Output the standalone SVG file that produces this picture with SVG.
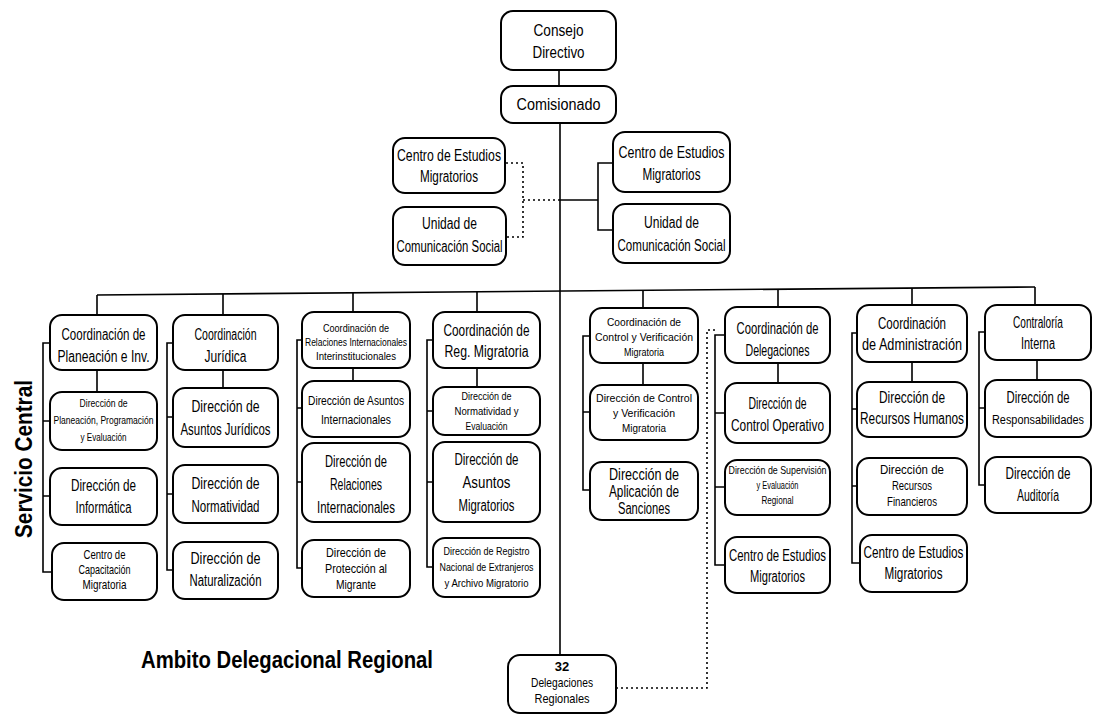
<svg xmlns="http://www.w3.org/2000/svg" width="1094" height="715" viewBox="0 0 1094 715">
<style>
.bx{fill:#fff;stroke:#000;stroke-width:2}
.t{font-family:"Liberation Sans",Arial,sans-serif;text-anchor:middle;fill:#000}
.l{font-size:16px}.m{font-size:13.5px}.s{font-size:11.5px}
.ln{fill:none;stroke:#000;stroke-width:1.6}
.dt{fill:none;stroke:#000;stroke-width:1.6;stroke-dasharray:2 3}
.h{font-family:"Liberation Sans",Arial,sans-serif;font-weight:bold;font-size:24px;fill:#000}
</style>
<rect width="1094" height="715" fill="#fff"/>
<g id="connectors">
<path class="ln" d="M559,70 V86"/>
<path class="ln" d="M560,123 V655"/>
<path class="dt" d="M506,163 H523 V237 H507 M523,200 H560"/>
<path class="ln" d="M560,200 H598 M613,163 H598 V230 H613"/>
<path class="ln" d="M97,295 L1035,287"/>
<path class="ln" d="M97,295 V315 M223,294 V315 M353,293 V312 M477,292 V312 M643,290 V308 M778,289 V307 M912,288 V305 M1035,287 V305"/>
<path class="ln" d="M97,370 V392 M223,370 V388 M353,368 V381 M477,368 V387 M643,363 V385 M778,363 V383 M912,362 V382 M1037,360 V380"/>
<path class="ln" d="M50,343 H43 V572 H52 M43,421 H50 M43,496 H50"/>
<path class="ln" d="M173,343 H167 V570 H173 M167,417 H173 M167,494 H173"/>
<path class="ln" d="M302,340 H297 V568 H302 M297,408 H302 M297,482 H302"/>
<path class="ln" d="M433,340 H427 V567 H433 M427,411 H433 M427,482 H433"/>
<path class="ln" d="M590,336 H583 V490 H590 M583,412 H590"/>
<path class="ln" d="M725,335 H715 V565 H725 M715,413 H725 M715,487 H725"/>
<path class="ln" d="M857,333 H852 V563 H860 M852,409 H857 M852,486 H857"/>
<path class="ln" d="M985,332 H979 V485 H985 M979,408 H985"/>
<path class="dt" d="M715,330 H707 V688 H617"/>
</g>
<g id="consejo"><rect class="bx" x="501" y="11" width="115" height="59" rx="12"/>
<text class="t l" x="558.5" y="36" textLength="50" lengthAdjust="spacingAndGlyphs">Consejo</text>
<text class="t l" x="558.5" y="58" textLength="52" lengthAdjust="spacingAndGlyphs">Directivo</text></g>
<g id="comisionado"><rect class="bx" x="501" y="86" width="115" height="37" rx="12"/>
<text class="t l" x="558.5" y="110" textLength="84" lengthAdjust="spacingAndGlyphs">Comisionado</text></g>
<g id="staff-centro-izq"><rect class="bx" x="393" y="138" width="112" height="55" rx="12"/>
<text class="t l" x="449" y="161" textLength="104" lengthAdjust="spacingAndGlyphs">Centro de Estudios</text>
<text class="t l" x="449" y="182" textLength="58" lengthAdjust="spacingAndGlyphs">Migratorios</text></g>
<g id="staff-unidad-izq"><rect class="bx" x="393" y="207" width="113" height="58" rx="12"/>
<text class="t l" x="449.5" y="229" textLength="55" lengthAdjust="spacingAndGlyphs">Unidad de</text>
<text class="t l" x="449.5" y="252" textLength="106" lengthAdjust="spacingAndGlyphs">Comunicación Social</text></g>
<g id="staff-centro-der"><rect class="bx" x="613" y="132" width="117" height="60" rx="12"/>
<text class="t l" x="671.5" y="158" textLength="106" lengthAdjust="spacingAndGlyphs">Centro de Estudios</text>
<text class="t l" x="671.5" y="180" textLength="58" lengthAdjust="spacingAndGlyphs">Migratorios</text></g>
<g id="staff-unidad-der"><rect class="bx" x="613" y="204" width="117" height="59" rx="12"/>
<text class="t l" x="671.5" y="228" textLength="55" lengthAdjust="spacingAndGlyphs">Unidad de</text>
<text class="t l" x="671.5" y="251" textLength="108" lengthAdjust="spacingAndGlyphs">Comunicación Social</text></g>

<g id="coord-planeacion"><rect class="bx" x="50" y="315" width="107" height="55" rx="12"/>
<text class="t l" x="103.5" y="340" textLength="84" lengthAdjust="spacingAndGlyphs">Coordinación de</text>
<text class="t l" x="103.5" y="362" textLength="92" lengthAdjust="spacingAndGlyphs">Planeación e Inv.</text></g>
<g id="dir-planeacion"><rect class="bx" x="50" y="392" width="107" height="58" rx="12"/>
<text class="t s" x="103.5" y="407" textLength="48" lengthAdjust="spacingAndGlyphs">Dirección de</text>
<text class="t s" x="103.5" y="424" textLength="100" lengthAdjust="spacingAndGlyphs">Planeación, Programación</text>
<text class="t s" x="103.5" y="441" textLength="46" lengthAdjust="spacingAndGlyphs">y Evaluación</text></g>
<g id="dir-informatica"><rect class="bx" x="50" y="468" width="107" height="57" rx="12"/>
<text class="t l" x="103.5" y="491" textLength="65" lengthAdjust="spacingAndGlyphs">Dirección de</text>
<text class="t l" x="103.5" y="513" textLength="56" lengthAdjust="spacingAndGlyphs">Informática</text></g>
<g id="centro-capacitacion"><rect class="bx" x="52" y="543" width="105" height="57" rx="12"/>
<text class="t m" x="104.5" y="559" textLength="42" lengthAdjust="spacingAndGlyphs">Centro de</text>
<text class="t m" x="104.5" y="574" textLength="52" lengthAdjust="spacingAndGlyphs">Capacitación</text>
<text class="t m" x="104.5" y="589" textLength="44" lengthAdjust="spacingAndGlyphs">Migratoria</text></g>

<g id="coord-juridica"><rect class="bx" x="173" y="315" width="105" height="55" rx="12"/>
<text class="t l" x="225.5" y="340" textLength="62" lengthAdjust="spacingAndGlyphs">Coordinación</text>
<text class="t l" x="225.5" y="362" textLength="42" lengthAdjust="spacingAndGlyphs">Jurídica</text></g>
<g id="dir-asuntos-juridicos"><rect class="bx" x="173" y="388" width="105" height="59" rx="12"/>
<text class="t l" x="225.5" y="412" textLength="68" lengthAdjust="spacingAndGlyphs">Dirección de</text>
<text class="t l" x="225.5" y="435" textLength="90" lengthAdjust="spacingAndGlyphs">Asuntos Jurídicos</text></g>
<g id="dir-normatividad"><rect class="bx" x="173" y="465" width="105" height="58" rx="12"/>
<text class="t l" x="225.5" y="489" textLength="68" lengthAdjust="spacingAndGlyphs">Dirección de</text>
<text class="t l" x="225.5" y="512" textLength="68" lengthAdjust="spacingAndGlyphs">Normatividad</text></g>
<g id="dir-naturalizacion"><rect class="bx" x="173" y="542" width="105" height="57" rx="12"/>
<text class="t l" x="225.5" y="564" textLength="70" lengthAdjust="spacingAndGlyphs">Dirección de</text>
<text class="t l" x="225.5" y="586" textLength="72" lengthAdjust="spacingAndGlyphs">Naturalización</text></g>

<g id="coord-relaciones"><rect class="bx" x="302" y="312" width="108" height="56" rx="12"/>
<text class="t s" x="356" y="332" textLength="66" lengthAdjust="spacingAndGlyphs">Coordinación de</text>
<text class="t s" x="356" y="346" textLength="102" lengthAdjust="spacingAndGlyphs">Relaciones Internacionales</text>
<text class="t s" x="356" y="360" textLength="80" lengthAdjust="spacingAndGlyphs">Interinstitucionales</text></g>
<g id="dir-asuntos-internacionales"><rect class="bx" x="302" y="381" width="108" height="56" rx="12"/>
<text class="t m" x="356" y="405" textLength="96" lengthAdjust="spacingAndGlyphs">Dirección de Asuntos</text>
<text class="t m" x="356" y="424" textLength="70" lengthAdjust="spacingAndGlyphs">Internacionales</text></g>
<g id="dir-relaciones-internacionales"><rect class="bx" x="302" y="443" width="108" height="79" rx="12"/>
<text class="t l" x="356" y="467" textLength="62" lengthAdjust="spacingAndGlyphs">Dirección de</text>
<text class="t l" x="356" y="490" textLength="52" lengthAdjust="spacingAndGlyphs">Relaciones</text>
<text class="t l" x="356" y="513" textLength="78" lengthAdjust="spacingAndGlyphs">Internacionales</text></g>
<g id="dir-proteccion"><rect class="bx" x="302" y="540" width="108" height="57" rx="12"/>
<text class="t m" x="356" y="557" textLength="60" lengthAdjust="spacingAndGlyphs">Dirección de</text>
<text class="t m" x="356" y="573" textLength="62" lengthAdjust="spacingAndGlyphs">Protección al</text>
<text class="t m" x="356" y="589" textLength="40" lengthAdjust="spacingAndGlyphs">Migrante</text></g>

<g id="coord-reg-migratoria"><rect class="bx" x="433" y="312" width="107" height="56" rx="12"/>
<text class="t l" x="486.5" y="336" textLength="86" lengthAdjust="spacingAndGlyphs">Coordinación de</text>
<text class="t l" x="486.5" y="357" textLength="84" lengthAdjust="spacingAndGlyphs">Reg. Migratoria</text></g>
<g id="dir-normatividad-evaluacion"><rect class="bx" x="433" y="387" width="107" height="48" rx="12"/>
<text class="t s" x="486.5" y="400" textLength="50" lengthAdjust="spacingAndGlyphs">Dirección de</text>
<text class="t s" x="486.5" y="415" textLength="64" lengthAdjust="spacingAndGlyphs">Normatividad y</text>
<text class="t s" x="486.5" y="430" textLength="42" lengthAdjust="spacingAndGlyphs">Evaluación</text></g>
<g id="dir-asuntos-migratorios"><rect class="bx" x="433" y="442" width="107" height="80" rx="12"/>
<text class="t l" x="486.5" y="465" textLength="64" lengthAdjust="spacingAndGlyphs">Dirección de</text>
<text class="t l" x="486.5" y="488" textLength="48" lengthAdjust="spacingAndGlyphs">Asuntos</text>
<text class="t l" x="486.5" y="511" textLength="56" lengthAdjust="spacingAndGlyphs">Migratorios</text></g>
<g id="dir-registro"><rect class="bx" x="433" y="538" width="107" height="59" rx="12"/>
<text class="t s" x="486.5" y="555" textLength="86" lengthAdjust="spacingAndGlyphs">Dirección de Registro</text>
<text class="t s" x="486.5" y="571" textLength="94" lengthAdjust="spacingAndGlyphs">Nacional de Extranjeros</text>
<text class="t s" x="486.5" y="587" textLength="84" lengthAdjust="spacingAndGlyphs">y Archivo Migratorio</text></g>

<g id="coord-control"><rect class="bx" x="590" y="308" width="108" height="55" rx="12"/>
<text class="t s" x="644" y="326" textLength="74" lengthAdjust="spacingAndGlyphs">Coordinación de</text>
<text class="t s" x="644" y="341" textLength="98" lengthAdjust="spacingAndGlyphs">Control y Verificación</text>
<text class="t s" x="644" y="356" textLength="40" lengthAdjust="spacingAndGlyphs">Migratoria</text></g>
<g id="dir-control-verificacion"><rect class="bx" x="590" y="385" width="108" height="55" rx="12"/>
<text class="t s" x="644" y="402" textLength="96" lengthAdjust="spacingAndGlyphs">Dirección de Control</text>
<text class="t s" x="644" y="417" textLength="62" lengthAdjust="spacingAndGlyphs">y Verificación</text>
<text class="t s" x="644" y="432" textLength="44" lengthAdjust="spacingAndGlyphs">Migratoria</text></g>
<g id="dir-aplicacion-sanciones"><rect class="bx" x="590" y="462" width="108" height="58" rx="12"/>
<text class="t l" x="644" y="480" textLength="70" lengthAdjust="spacingAndGlyphs">Dirección de</text>
<text class="t l" x="644" y="497" textLength="70" lengthAdjust="spacingAndGlyphs">Aplicación de</text>
<text class="t l" x="644" y="514" textLength="52" lengthAdjust="spacingAndGlyphs">Sanciones</text></g>

<g id="coord-delegaciones"><rect class="bx" x="725" y="307" width="105" height="56" rx="12"/>
<text class="t l" x="777.5" y="334" textLength="82" lengthAdjust="spacingAndGlyphs">Coordinación de</text>
<text class="t l" x="777.5" y="356" textLength="64" lengthAdjust="spacingAndGlyphs">Delegaciones</text></g>
<g id="dir-control-operativo"><rect class="bx" x="725" y="383" width="105" height="60" rx="12"/>
<text class="t l" x="777.5" y="409" textLength="58" lengthAdjust="spacingAndGlyphs">Dirección de</text>
<text class="t l" x="777.5" y="431" textLength="93" lengthAdjust="spacingAndGlyphs">Control Operativo</text></g>
<g id="dir-supervision"><rect class="bx" x="725" y="460" width="105" height="55" rx="12"/>
<text class="t s" x="777.5" y="474" textLength="98" lengthAdjust="spacingAndGlyphs">Dirección de Supervisión</text>
<text class="t s" x="777.5" y="489" textLength="42" lengthAdjust="spacingAndGlyphs">y Evaluación</text>
<text class="t s" x="777.5" y="504" textLength="32" lengthAdjust="spacingAndGlyphs">Regional</text></g>
<g id="centro-estudios-deleg"><rect class="bx" x="725" y="537" width="105" height="56" rx="12"/>
<text class="t l" x="777.5" y="561" textLength="97" lengthAdjust="spacingAndGlyphs">Centro de Estudios</text>
<text class="t l" x="777.5" y="582" textLength="55" lengthAdjust="spacingAndGlyphs">Migratorios</text></g>

<g id="coord-administracion"><rect class="bx" x="857" y="305" width="110" height="57" rx="12"/>
<text class="t l" x="912" y="329" textLength="68" lengthAdjust="spacingAndGlyphs">Coordinación</text>
<text class="t l" x="912" y="350" textLength="100" lengthAdjust="spacingAndGlyphs">de Administración</text></g>
<g id="dir-recursos-humanos"><rect class="bx" x="857" y="382" width="110" height="55" rx="12"/>
<text class="t l" x="912" y="403" textLength="66" lengthAdjust="spacingAndGlyphs">Dirección de</text>
<text class="t l" x="912" y="424" textLength="104" lengthAdjust="spacingAndGlyphs">Recursos Humanos</text></g>
<g id="dir-recursos-financieros"><rect class="bx" x="857" y="458" width="110" height="57" rx="12"/>
<text class="t m" x="912" y="474" textLength="64" lengthAdjust="spacingAndGlyphs">Dirección de</text>
<text class="t m" x="912" y="490" textLength="40" lengthAdjust="spacingAndGlyphs">Recursos</text>
<text class="t m" x="912" y="506" textLength="50" lengthAdjust="spacingAndGlyphs">Financieros</text></g>
<g id="centro-estudios-admin"><rect class="bx" x="860" y="535" width="107" height="57" rx="12"/>
<text class="t l" x="913.5" y="558" textLength="100" lengthAdjust="spacingAndGlyphs">Centro de Estudios</text>
<text class="t l" x="913.5" y="579" textLength="58" lengthAdjust="spacingAndGlyphs">Migratorios</text></g>

<g id="contraloria"><rect class="bx" x="985" y="305" width="106" height="55" rx="12"/>
<text class="t l" x="1038" y="328" textLength="50" lengthAdjust="spacingAndGlyphs">Contraloría</text>
<text class="t l" x="1038" y="349" textLength="34" lengthAdjust="spacingAndGlyphs">Interna</text></g>
<g id="dir-responsabilidades"><rect class="bx" x="985" y="380" width="106" height="57" rx="12"/>
<text class="t l" x="1038" y="403" textLength="63" lengthAdjust="spacingAndGlyphs">Dirección de</text>
<text class="t" x="1038" y="424" font-size="12" textLength="92" lengthAdjust="spacingAndGlyphs">Responsabilidades</text></g>
<g id="dir-auditoria"><rect class="bx" x="985" y="457" width="106" height="56" rx="12"/>
<text class="t l" x="1038" y="479" textLength="65" lengthAdjust="spacingAndGlyphs">Dirección de</text>
<text class="t l" x="1038" y="501" textLength="42" lengthAdjust="spacingAndGlyphs">Auditoría</text></g>

<g id="delegaciones-regionales"><rect class="bx" x="508" y="655" width="108" height="58" rx="12"/>
<text class="t" x="562" y="671" font-size="13" font-weight="bold">32</text>
<text class="t m" x="562" y="687" textLength="62" lengthAdjust="spacingAndGlyphs">Delegaciones</text>
<text class="t m" x="562" y="703" textLength="55" lengthAdjust="spacingAndGlyphs">Regionales</text></g>

<text class="h" transform="translate(32,459) rotate(-90)" text-anchor="middle" textLength="158" lengthAdjust="spacingAndGlyphs">Servicio Central</text>
<text class="h" x="141" y="668" textLength="292" lengthAdjust="spacingAndGlyphs">Ambito Delegacional Regional</text>
</svg>
